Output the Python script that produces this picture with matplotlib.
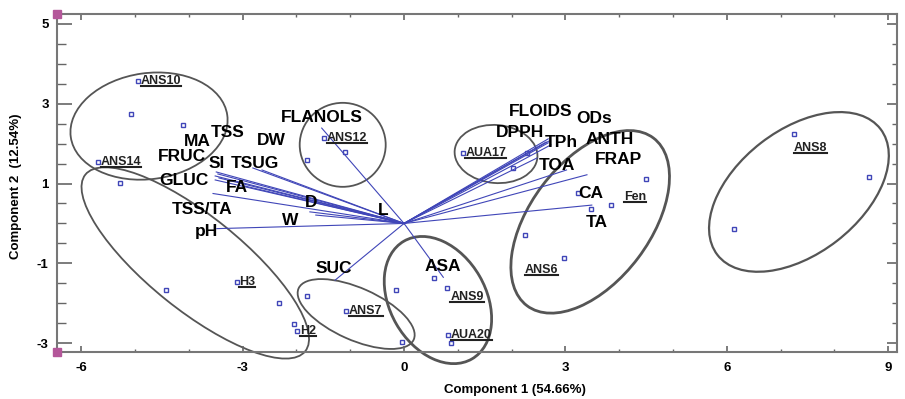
import matplotlib
matplotlib.use('Agg')
import numpy as np
import matplotlib.pyplot as plt
from matplotlib.patches import Ellipse
from matplotlib.lines import Line2D
from matplotlib.transforms import ScaledTranslation

plt.rcParams['font.family'] = ['Liberation Sans', 'DejaVu Sans']
plt.rcParams['font.weight'] = 'bold'
plt.rcParams['axes.unicode_minus'] = False

# scores (samples)
score_x = [-4.94, -5.07, -4.11, -5.69, -5.28, -1.49, -1.10, -1.80, -4.42, -3.11, -2.32,
           -1.81, -2.04, -1.99, -1.08, -0.15, -0.04, 0.56, 0.79, 0.81, 0.87, 1.09,
           2.29, 2.03, 4.49, 3.23, 3.84, 3.48, 2.24, 2.98, 7.24, 8.64, 6.13]
score_y = [3.57, 2.74, 2.46, 1.55, 1.01, 2.15, 1.78, 1.60, -1.67, -1.47, -2.00,
           -1.83, -2.53, -2.69, -2.19, -1.67, -2.97, -1.37, -1.62, -2.79, -2.99, 1.76,
           1.77, 1.39, 1.12, 0.76, 0.47, 0.36, -0.28, -0.86, 2.25, 1.16, -0.13]

sample_names = ['ANS10', 'ANS14', 'ANS12', 'H3', 'H2', 'ANS7', 'ANS9', 'AUA20',
                'AUA17', 'Fen', 'ANS6', 'ANS8']
sample_lab_x = [-4.89, -5.64, -1.44, -3.07, -1.93, -1.02, 0.86, 0.87, 1.14, 4.09, 2.24, 7.25]
sample_lab_y = [3.57, 1.55, 2.15, -1.47, -2.69, -2.19, -1.84, -2.79, 1.76, 0.66, -1.17, 1.90]

# loadings (variables)
var_names = ['MA', 'TSS', 'FRUC', 'SI', 'GLUC', 'TSUG', 'DW', 'FA', 'TSS/TA', 'D', 'W',
             'L', 'pH', 'FLANOLS', 'ASA', 'SUC', 'FLOIDS', 'ODs', 'DPPH', 'TPh',
             'ANTH', 'TOA', 'FRAP', 'CA', 'TA']
load_x = [-3.49, -3.46, -3.51, -3.44, -3.51, -2.81, -2.64, -3.00, -3.55, -1.75, -1.64,
          -0.45, -3.48, -1.53, 0.73, -1.28, 2.68, 2.70, 2.64, 2.68, 2.73, 3.02, 3.40,
          2.47, 3.49]
load_y = [1.29, 1.24, 1.19, 1.14, 1.09, 1.39, 1.34, 0.95, 0.75, 0.29, 0.21,
          0.17, -0.13, 2.39, -1.35, -1.42, 2.12, 2.07, 2.04, 2.02, 1.97, 1.34, 1.22,
          1.64, 0.46]
var_lab_x = [-3.85, -3.28, -4.13, -3.49, -4.09, -2.77, -2.46, -3.11, -3.76, -1.73, -2.12,
             -0.38, -3.68, -1.53, 0.73, -1.30, 2.53, 3.54, 2.16, 2.93, 3.82, 2.84, 3.98,
             3.47, 3.58]
var_lab_y = [2.05, 2.28, 1.67, 1.49, 1.07, 1.51, 2.09, 0.91, 0.36, 0.53, 0.07,
             0.32, -0.21, 2.66, -1.08, -1.12, 2.80, 2.64, 2.28, 2.03, 2.11, 1.44, 1.61,
             0.76, 0.02]

# group ellipses: centre (data), half axes (px), angle (deg), line width
groups = [
    ((-4.74, 2.44), 79, 53, 8, 1.3),
    ((-3.88, -0.99), 141, 47, -38.8, 1.3),
    ((-1.14, 1.97), 43, 42, 0, 1.3),
    ((-0.89, -2.27), 63, 26, -24, 1.3),
    ((0.63, -1.92), 68, 48, -60, 2.0),
    ((1.71, 1.74), 41.5, 29, -5, 1.3),
    ((3.46, 0.04), 105, 60, 53, 2.0),
    ((7.34, 0.79), 103, 62, 37.7, 1.6),
]

fig = plt.figure(figsize=(9.05, 3.99), dpi=100)
ax = fig.add_axes([0.063, 0.118, 0.928, 0.847])
ax.set_xlim(-6.45, 9.16)
ax.set_ylim(-3.22, 5.25)

blue = '#4046b8'
for x, y in zip(load_x, load_y):
    ax.plot([0, x], [0, y], color=blue, lw=0.8)
for name, x, y in zip(var_names, var_lab_x, var_lab_y):
    ax.text(x, y, name, fontsize=12.5, fontweight='bold', ha='center', va='center')

ax.plot(score_x, score_y, 's', ms=3.5, mfc='none', mec=blue, mew=1.0)

sample_texts = []
for name, x, y in zip(sample_names, sample_lab_x, sample_lab_y):
    sample_texts.append(ax.text(x, y, name, fontsize=9, fontweight='bold', ha='left',
                                va='center', color='#222222'))

for (cx, cy), a, b, ang, lw in groups:
    tr = fig.dpi_scale_trans + ScaledTranslation(cx, cy, ax.transData)
    e = Ellipse((0, 0), 2 * a / 100, 2 * b / 100, angle=ang, transform=tr,
                fill=False, ec='#555555', lw=lw, clip_on=False)
    ax.add_patch(e)

# axes styling
for s in ax.spines.values():
    s.set_color('#777777')
    s.set_linewidth(1.5)
ax.set_xticks([-6, -3, 0, 3, 6, 9])
ax.set_xticks(np.arange(-6, 10, 1), minor=True)
ax.set_yticks([5, 3, 1, -1, -3])
ax.set_yticks(np.arange(-3, 5.01, 0.5), minor=True)
ax.tick_params(axis='x', which='major', direction='in', length=4.5, width=1.2,
               color='#666666', top=True, labelsize=9.5, pad=7)
ax.tick_params(axis='x', which='minor', direction='in', length=2.5, width=1.0,
               color='#666666', top=True)
ax.tick_params(axis='y', which='major', direction='in', length=11, width=1.2,
               color='#666666', labelsize=9.5, pad=6)
ax.tick_params(axis='y', which='minor', direction='in', length=6.5, width=1.0,
               color='#666666')
for lab in ax.get_xticklabels() + ax.get_yticklabels():
    lab.set_fontweight('bold')

sec = ax.secondary_yaxis('right')
sec.set_yticks([5, 3, 1, -1, -3])
sec.set_yticks(np.arange(-3, 5.01, 0.5), minor=True)
sec.tick_params(which='major', direction='in', length=7, width=1.2, color='#666666',
                labelright=False)
sec.tick_params(which='minor', direction='in', length=3.5, width=1.0, color='#666666')
sec.spines['right'].set_visible(False)

ax.set_xlabel('Component 1 (54.66%)', fontsize=9.5, fontweight='bold')
ax.xaxis.set_label_coords(0.545, -0.095)
ax.set_ylabel('Component 2  (12.54%)', fontsize=9.5, fontweight='bold')
ax.yaxis.set_label_coords(-0.042, 0.49)

# small corner markers
ax.plot([0, 0], [0, 1], 's', ms=6, color='#b4579a', transform=ax.transAxes,
        clip_on=False, zorder=5)

# underline the sample labels
fig.canvas.draw()
r = fig.canvas.get_renderer()
inv = fig.transFigure.inverted()
for t in sample_texts:
    bb = t.get_window_extent(r)
    (x0, y0), (x1, _) = inv.transform([(bb.x0, bb.y0 + 1), (bb.x1, bb.y0 + 1)])
    fig.add_artist(Line2D([x0, x1], [y0, y0], color='#222222', lw=1.5,
                          transform=fig.transFigure))

fig.savefig('out.png', dpi=100)
